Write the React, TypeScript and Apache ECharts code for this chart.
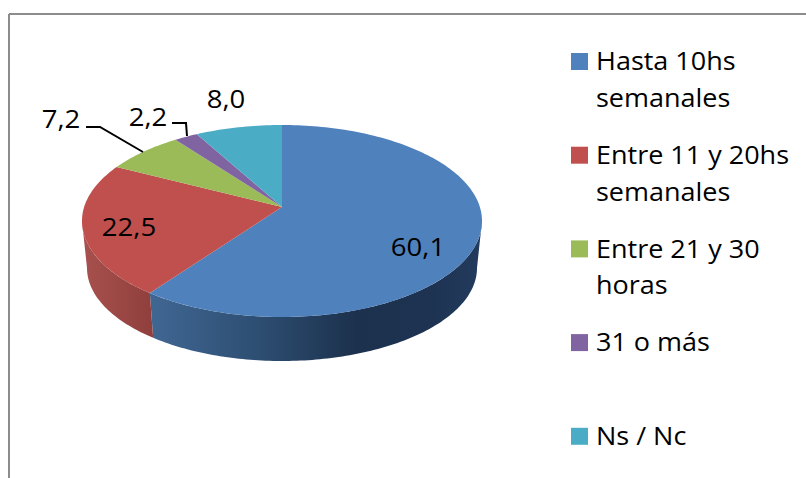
import React, { useEffect, useRef } from "react";
import * as echarts from "echarts";

const categories = [
  "Hasta 10hs\nsemanales",
  "Entre 11 y 20hs\nsemanales",
  "Entre 21 y 30\nhoras",
  "31 o más",
  "Ns / Nc",
];
const values = [60.1, 22.5, 7.2, 2.2, 8.0];
const labels = ["60,1", "22,5", "7,2", "2,2", "8,0"];
const colors = ["#4F81BD", "#C0504D", "#9BBB59", "#8064A2", "#4BACC6"];

const FONT = '"Open Sans", sans-serif';
const FONT_SIZE = 25;
const LEGEND_STRETCH = 1.08;
const LABEL_STRETCH = 1.1;

// layout of the tilted disc
const TOP = { cx: 282, cy: 221, rx: 200, ry: 96 };
const BOTTOM = { cx: 282, cy: 268, rx: 195, ry: 93 };
const APEX = { x: 282, y: 207 };
const PERSPECTIVE = 0.87;

const labelPos = [
  [418, 246],
  [129, 226],
  [61, 118],
  [148, 116],
  [226, 98],
];
const leaders: Record<number, number[][]> = {
  2: [[86, 127], [100, 127], [143, 152]],
  3: [[172, 123], [186, 123], [187, 136]],
};

const LEGEND = { x: 571, textX: 596, y0: 61.5, step: 93.7, box: 17, lineHeight: 37, textShift: -1 };

const sideFills: Record<number, echarts.graphic.LinearGradient> = {
  0: new echarts.graphic.LinearGradient(0, 0, 1, 0, [
    { offset: 0, color: "#406793" },
    { offset: 0.3, color: "#2F5075" },
    { offset: 0.62, color: "#1C314D" },
    { offset: 0.85, color: "#1E3352" },
    { offset: 1, color: "#233B5E" },
  ]),
  1: new echarts.graphic.LinearGradient(0, 0, 1, 0, [
    { offset: 0, color: "#A8514E" },
    { offset: 1, color: "#8F3F3D" },
  ]),
};

const total = values.reduce((a, b) => a + b, 0);

// true pie angle (clockwise from 12 o'clock) -> ellipse parameter, with perspective
const warp = (deg: number) => {
  const half = (deg / 2) * (Math.PI / 180);
  if (Math.abs(deg - 180) < 1e-6) return Math.PI;
  let t = 2 * Math.atan(PERSPECTIVE * Math.tan(half));
  if (t < 0) t += 2 * Math.PI;
  return t;
};
const onEllipse = (e: typeof TOP, t: number) => [
  e.cx + e.rx * Math.sin(t),
  e.cy - e.ry * Math.cos(t),
];
const arc = (e: typeof TOP, t0: number, t1: number) => {
  const n = Math.max(2, Math.ceil(Math.abs(t1 - t0) / 0.02));
  const pts: number[][] = [];
  for (let i = 0; i <= n; i++) pts.push(onEllipse(e, t0 + ((t1 - t0) * i) / n));
  return pts;
};

function renderItem(params: any, api: any) {
  const i = params.dataIndex;
  let before = 0;
  for (let k = 0; k < i; k++) before += values[k];
  const value = api.value(0);
  const t0 = warp((before / total) * 360);
  const t1 = warp(((before + value) / total) * 360);

  const children: any[] = [];
  const sa = Math.max(t0, Math.PI / 2);
  const sb = Math.min(t1, (3 * Math.PI) / 2);
  if (sb > sa) {
    children.push({
      type: "polygon",
      shape: { points: [...arc(TOP, sa, sb), ...arc(BOTTOM, sb, sa)] },
      style: { fill: sideFills[i] || colors[i] },
    });
  }
  children.push({
    type: "polygon",
    shape: { points: [[APEX.x, APEX.y], ...arc(TOP, t0, t1)] },
    style: { fill: colors[i] },
  });
  if (leaders[i]) {
    children.push({
      type: "polyline",
      shape: { points: leaders[i] },
      style: { fill: "none", stroke: "#000", lineWidth: 2 },
    });
  }
  children.push({
    type: "text",
    x: labelPos[i][0],
    y: labelPos[i][1],
    scaleX: LABEL_STRETCH,
    style: {
      text: labels[i],
      x: 0,
      y: 0,
      align: "center",
      verticalAlign: "middle",
      fill: "#000",
      font: `${FONT_SIZE}px ${FONT}`,
    },
  });
  return { type: "group", children };
}

export default function App() {
  const ref = useRef<HTMLDivElement>(null);
  useEffect(() => {
    const chart = echarts.init(ref.current!, undefined, { renderer: "svg" });
    const legendItems: any[] = [];
    categories.forEach((name, i) => {
      const y = LEGEND.y0 + LEGEND.step * i;
      legendItems.push({
        type: "rect",
        shape: { x: LEGEND.x, y: y - LEGEND.box / 2, width: LEGEND.box, height: LEGEND.box },
        style: { fill: colors[i] },
      });
      legendItems.push({
        type: "text",
        x: LEGEND.textX,
        y: y - LEGEND.lineHeight / 2 + LEGEND.textShift,
        scaleX: LEGEND_STRETCH,
        style: {
          text: name,
          x: 0,
          y: 0,
          fill: "#000",
          font: `${FONT_SIZE}px ${FONT}`,
          lineHeight: LEGEND.lineHeight,
          verticalAlign: "top",
        },
      });
    });
    chart.setOption({
      animation: false,
      backgroundColor: "#fff",
      graphic: [
        { type: "line", shape: { x1: 9, y1: 14, x2: 9, y2: 478 }, style: { stroke: "#8C8C8C", lineWidth: 2 } },
        { type: "line", shape: { x1: 9, y1: 14, x2: 806, y2: 14 }, style: { stroke: "#8C8C8C", lineWidth: 2 } },
        ...legendItems,
      ],
      series: [
        {
          type: "custom",
          coordinateSystem: "none",
          silent: true,
          renderItem,
          data: values.map((v) => [v]),
        },
      ],
    });
    return () => chart.dispose();
  }, []);
  return <div ref={ref} style={{ position: "absolute", left: 0, top: 0, width: 806, height: 478 }} />;
}
